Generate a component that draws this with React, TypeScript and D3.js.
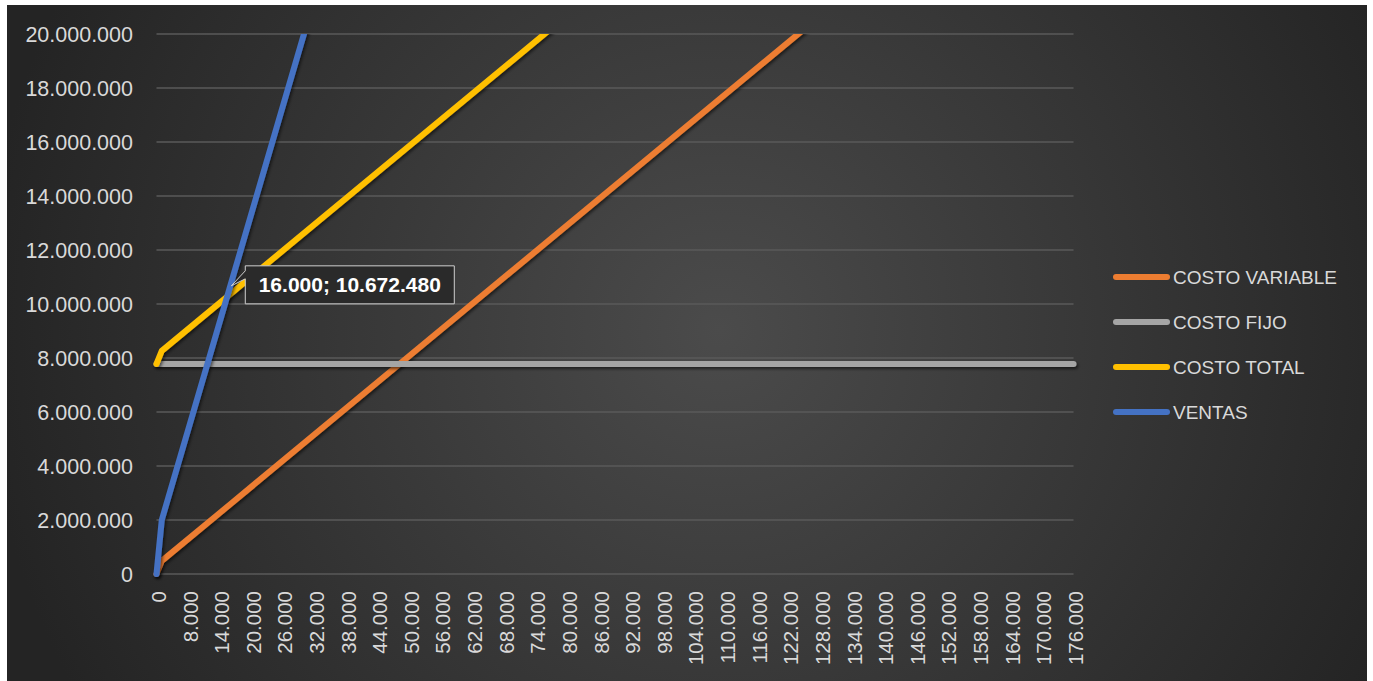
import React from "react";
import * as d3 from "d3";

// ---- data (units on the category axis, values in pesos) ----
const xTickLabels = [
  0, 8000, 14000, 20000, 26000, 32000, 38000, 44000, 50000, 56000, 62000, 68000,
  74000, 80000, 86000, 92000, 98000, 104000, 110000, 116000, 122000, 128000,
  134000, 140000, 146000, 152000, 158000, 164000, 170000, 176000,
];
// category axis: 0, 3000, then one category every 1000 up to 176000
const categoryBreaks = [0, 3000, 176000];
const categoryCount = 175;

const yTicks = [0, 2e6, 4e6, 6e6, 8e6, 10e6, 12e6, 14e6, 16e6, 18e6, 20e6];

const pointUnits = [0, 3000, 16000, 176000];
const costoVariable = [0, 484800, 2585600, 28441600];
const costoFijo = [7780000, 7780000, 7780000, 7780000];
const costoTotal = [7780000, 8264800, 10365600, 36221600];
const ventas = [0, 2001090, 10672480, 117397280];

const seriesNames = ["COSTO VARIABLE", "COSTO FIJO", "COSTO TOTAL", "VENTAS"];
const seriesColors = ["#ED7D31", "#A5A5A5", "#FFC000", "#4472C4"];

const calloutUnits = 16000;
const calloutValue = 10672480;

// ---- layout ----
const W = 1373;
const H = 681;
const X0 = 156.5;
const X1 = 1073.5;
const YTOP = 34;
const YBOT = 574;
const FONT = "'Liberation Sans', Arial, sans-serif";
const TEXT = "#d9d9d9";

const fmt = d3
  .formatLocale({ decimal: ",", thousands: ".", grouping: [3], currency: ["", ""] })
  .format(",d");

export default function App() {
  const step = (X1 - X0) / (categoryCount - 1);
  const x = d3
    .scaleLinear()
    .domain(categoryBreaks)
    .range([X0, X0 + step, X1]);
  const y = d3.scaleLinear().domain([0, 20e6]).range([YBOT, YTOP]);

  const seriesValues = [costoVariable, costoFijo, costoTotal, ventas];
  const line = d3
    .line<number>()
    .x((_, i) => x(pointUnits[i]))
    .y((v) => y(v));

  const px = x(calloutUnits);
  const py = y(calloutValue);
  const bx = px + 15;
  const by = py - 20;
  const bw = 209;
  const bh = 38;

  const legendY = [277, 322, 367, 412];

  return (
    <svg
      width={W}
      height={H}
      style={{ position: "absolute", left: 0, top: 0, background: "#fff" }}
    >
      <defs>
        <radialGradient id="bg" gradientUnits="userSpaceOnUse" cx={720} cy={330} r={740}>
          <stop offset="0" stopColor="#4b4b4b" />
          <stop offset="1" stopColor="#242424" />
        </radialGradient>
        <clipPath id="plotClip">
          <rect x={0} y={YTOP} width={W} height={H - YTOP} />
        </clipPath>
        <filter
          id="shadow"
          filterUnits="userSpaceOnUse"
          x={0}
          y={0}
          width={W}
          height={H}
        >
          <feDropShadow dx="1.5" dy="2" stdDeviation="1.5" floodColor="#000" floodOpacity="0.55" />
        </filter>
      </defs>
      <rect x={7} y={5} width={1360} height={676} fill="url(#bg)" />

      {/* gridlines */}
      {yTicks.map((t) => (
        <line
          key={"g" + t}
          x1={X0}
          x2={X1}
          y1={y(t)}
          y2={y(t)}
          stroke="#5a5a5a"
          strokeWidth={1.5}
        />
      ))}

      {/* y labels */}
      {yTicks.map((t) => (
        <text
          key={"yl" + t}
          x={133}
          y={y(t)}
          dy="0.36em"
          textAnchor="end"
          fill={TEXT}
          fontFamily={FONT}
          fontSize={21.5}
        >
          {fmt(t)}
        </text>
      ))}

      {/* x labels */}
      {xTickLabels.map((t) => (
        <text
          key={"xl" + t}
          transform={`translate(${x(t) + 2},${591}) rotate(-90)`}
          dy="0.36em"
          textAnchor="end"
          fill={TEXT}
          fontFamily={FONT}
          fontSize={20.5}
        >
          {fmt(t)}
        </text>
      ))}

      {/* series */}
      <g clipPath="url(#plotClip)">
        {seriesValues.map((vals, i) => (
          <path
            key={seriesNames[i]}
            d={line(vals) || ""}
            fill="none"
            stroke={seriesColors[i]}
            strokeWidth={6}
            strokeLinejoin="round"
            strokeLinecap="round"
            filter="url(#shadow)"
          />
        ))}
      </g>

      {/* callout */}
      <path
        d={`M${bx},${by} H${bx + bw} V${by + bh} H${bx} V${by + 13} L${px + 1},${py} L${bx},${by + 5} Z`}
        fill="#2a2a2a"
        stroke="#d0d0d0"
        strokeWidth={1}
      />
      <text
        x={bx + bw / 2}
        y={by + bh / 2}
        dy="0.36em"
        textAnchor="middle"
        fill="#ffffff"
        fontFamily={FONT}
        fontWeight="bold"
        fontSize={21}
      >
        {`${fmt(calloutUnits)}; ${fmt(calloutValue)}`}
      </text>

      {/* legend */}
      {seriesNames.map((n, i) => (
        <g key={"lg" + n}>
          <line
            x1={1116}
            x2={1167}
            y1={legendY[i]}
            y2={legendY[i]}
            stroke={seriesColors[i]}
            strokeWidth={6}
            strokeLinecap="round"
          />
          <text
            x={1173}
            y={legendY[i]}
            dy="0.36em"
            fill={TEXT}
            fontFamily={FONT}
            fontSize={19}
          >
            {n}
          </text>
        </g>
      ))}
    </svg>
  );
}
